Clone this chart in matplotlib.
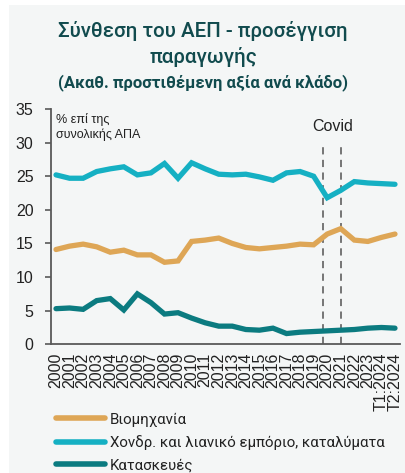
import matplotlib
matplotlib.use("Agg")
import matplotlib.pyplot as plt
from matplotlib.patches import Rectangle

categories = [str(y) for y in range(2000, 2024)] + ["T1:2024", "T2:2024"]
industry = [14.1, 14.6, 14.9, 14.5, 13.7, 14.0, 13.3, 13.3, 12.2, 12.4, 15.3, 15.5, 15.8,
            15.0, 14.4, 14.2, 14.4, 14.6, 14.9, 14.8, 16.4, 17.2, 15.5, 15.3, 15.9, 16.4]
trade = [25.2, 24.7, 24.7, 25.7, 26.1, 26.4, 25.2, 25.5, 26.9, 24.7, 27.0, 26.1, 25.3,
         25.2, 25.3, 24.9, 24.4, 25.5, 25.7, 25.0, 21.8, 22.9, 24.2, 24.0, 23.9, 23.8]
construction = [5.3, 5.4, 5.2, 6.5, 6.8, 5.1, 7.5, 6.2, 4.5, 4.7, 3.9, 3.2, 2.7,
                2.7, 2.2, 2.1, 2.4, 1.6, 1.8, 1.9, 2.0, 2.1, 2.2, 2.4, 2.5, 2.4]
series_names = ["Βιομηχανία", "Χονδρ. και λιανικό εμπόριο, καταλύματα", "Κατασκευές"]
covid_x = [19.7, 21.05]

W, H = 405, 473
fig = plt.figure(figsize=(W / 100, H / 100), dpi=100, facecolor="white")
bg = "#f4f6f6"
fig.patches.append(Rectangle((9 / W, 0), 1 - 9 / W, 1 - 5 / H, transform=fig.transFigure,
                             facecolor=bg, edgecolor="none", zorder=-10))

ax = fig.add_axes([51 / W, 1 - 344.3 / H, (400 - 51) / W, (344.3 - 109) / H])
ax.set_facecolor(bg)
x = list(range(len(categories)))
colors = ["#dea656", "#15b0c3", "#0b7b80"]
for vals, c, name in zip([industry, trade, construction], colors, series_names):
    ax.plot(x, vals, color=c, lw=3.8, label=name, solid_joinstyle="miter", solid_capstyle="round")

for cx in covid_x:
    ax.plot([cx, cx], [0, 30.1], color="#6b6b6b", lw=1.3, ls=(0, (4, 3)), zorder=1)
ax.text(sum(covid_x) / 2, 32.4, "Covid", ha="center", va="center", fontsize=11.5,
        family="Liberation Sans", color="#222222")

ax.set_xlim(-0.37, 25.37)
ax.set_ylim(0, 35)
ax.set_yticks([0, 5, 10, 15, 20, 25, 30, 35])
ax.set_xticks(x)
ax.set_xticklabels(categories, rotation=90, va="top", ha="center")
for lab in ax.get_xticklabels() + ax.get_yticklabels():
    lab.set_family("Liberation Sans")
    lab.set_fontsize(11.5)
    lab.set_color("#222222")
ax.tick_params(axis="x", length=0, pad=6)
ax.tick_params(axis="y", length=4.5, width=1.2, color="#595959", pad=8)
for s in ["top", "right"]:
    ax.spines[s].set_visible(False)
for s in ["left", "bottom"]:
    ax.spines[s].set_color("#595959")
    ax.spines[s].set_linewidth(1.3)

ax.text(0.015, 0.985, "% επί της\nσυνολικής ΑΠΑ", transform=ax.transAxes, ha="left", va="top",
        fontsize=9, family="Liberation Sans", color="#222222", linespacing=1.35)

tc = "#114b4e"
fig.text(203 / W, 1 - 31 / H, "Σύνθεση του ΑΕΠ - προσέγγιση", ha="center", va="center",
         fontsize=14.8, family="Roboto", fontweight="medium", color=tc)
fig.text(203 / W, 1 - 57 / H, "παραγωγής", ha="center", va="center",
         fontsize=14.8, family="Roboto", fontweight="medium", color=tc)
fig.text(203 / W, 1 - 83 / H, "(Ακαθ. προστιθέμενη αξία ανά κλάδο)", ha="center", va="center",
         fontsize=12, family="Roboto", fontweight="bold", color=tc)

handles, labels = ax.get_legend_handles_labels()
leg = fig.legend(handles, labels, loc="upper left", bbox_to_anchor=(42 / W, 1 - 399 / H),
                 frameon=False, handlelength=3.3, handletextpad=0.3,
                 labelspacing=0.55, prop={"family": "Roboto", "size": 10.8})
for t in leg.get_texts():
    t.set_color("#222222")
for l in leg.get_lines():
    l.set_linewidth(4)

fig.savefig("out.png", dpi=100, facecolor=fig.get_facecolor())
